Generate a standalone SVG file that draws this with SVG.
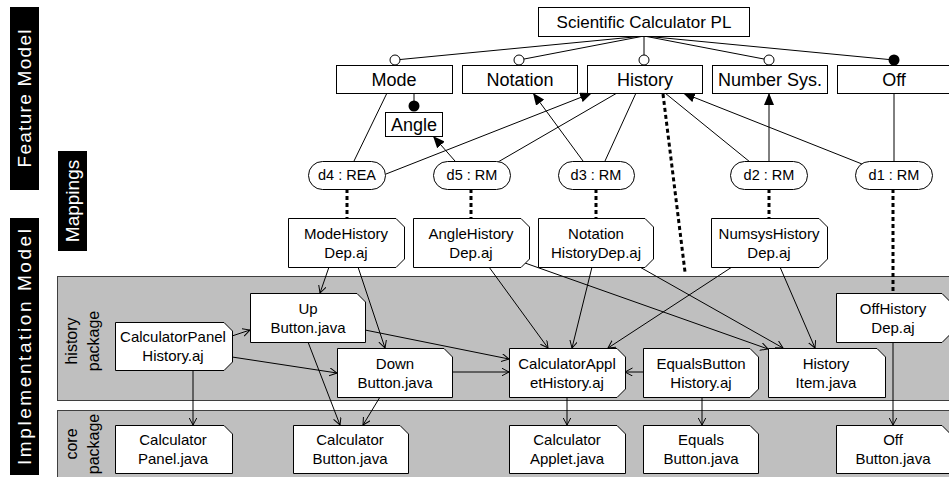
<svg xmlns="http://www.w3.org/2000/svg" width="949" height="477" viewBox="0 0 949 477">
<style>
.bx{fill:#fff;stroke:#000;stroke-width:1}
.pkg{fill:#bfbfbf;stroke:#3f3f3f;stroke-width:1}
.t{font-family:"Liberation Sans",Arial,sans-serif;font-size:15px;text-anchor:middle;fill:#000}
.f{font-size:18px}
.r{font-size:17px}
.m{font-size:14.5px}
.side{font-family:"Liberation Sans",Arial,sans-serif;font-size:19px;text-anchor:middle;fill:#fff}
.pl{font-family:"Liberation Sans",Arial,sans-serif;font-size:16px;text-anchor:middle;fill:#000}
.ln{stroke:#000;stroke-width:1;fill:none}
.dash{stroke:#000;stroke-width:3;stroke-dasharray:4 3;fill:none}
</style>
<defs>
<marker id="tri" markerUnits="userSpaceOnUse" markerWidth="13" markerHeight="10" refX="12" refY="5" orient="auto"><path d="M0,0 L12,5 L0,10 Z" fill="#000"/></marker>
<marker id="v" markerUnits="userSpaceOnUse" markerWidth="9" markerHeight="9" refX="7.5" refY="4" orient="auto"><path d="M0,0 L7.5,4 L0,8" fill="none" stroke="#000" stroke-width="1"/></marker>
</defs>

<g id="side-labels">
<rect x="10" y="7" width="29" height="183" fill="#000"/>
<text class="side" transform="translate(31,98.5) rotate(-90)" textLength="138" lengthAdjust="spacing">Feature Model</text>
<rect x="58" y="151" width="29" height="100" fill="#000"/>
<text class="side" transform="translate(79,201) rotate(-90)" font-size="18">Mappings</text>
<rect x="10" y="218" width="29" height="257" fill="#000"/>
<text class="side" transform="translate(31,347) rotate(-90)" textLength="236" lengthAdjust="spacing">Implementation Model</text>
</g>

<g id="packages">
<rect class="pkg" x="57.5" y="276.5" width="892" height="124"/>
<text class="pl" transform="translate(77,341) rotate(-90)">history</text>
<text class="pl" transform="translate(99,341) rotate(-90)">package</text>
<rect class="pkg" x="57.5" y="410.5" width="892" height="70"/>
<text class="pl" transform="translate(77,444) rotate(-90)">core</text>
<text class="pl" transform="translate(99,444) rotate(-90)">package</text>
</g>

<g id="connectors">
<line class="ln" x1="644" y1="36" x2="395" y2="60"/>
<line class="ln" x1="644" y1="36" x2="519" y2="60"/>
<line class="ln" x1="644" y1="36" x2="644" y2="60"/>
<line class="ln" x1="644" y1="36" x2="769" y2="60"/>
<line class="ln" x1="644" y1="36" x2="894" y2="60"/>
<line class="ln" x1="414" y1="93" x2="414" y2="106"/>

<line class="ln" x1="387" y1="93" x2="354" y2="161"/>
<line class="ln" x1="386" y1="174" x2="592" y2="93" marker-end="url(#tri)"/>
<line class="ln" x1="455" y1="161" x2="433" y2="136" marker-end="url(#tri)"/>
<line class="ln" x1="498" y1="162" x2="617" y2="93"/>
<line class="ln" x1="583" y1="161" x2="533" y2="93" marker-end="url(#tri)"/>
<line class="ln" x1="605" y1="161" x2="636" y2="93"/>
<line class="ln" x1="665" y1="93" x2="750" y2="162"/>
<line class="ln" x1="769" y1="161" x2="769" y2="93" marker-end="url(#tri)"/>
<line class="ln" x1="862" y1="164" x2="683" y2="93" marker-end="url(#tri)"/>
<line class="ln" x1="894" y1="93" x2="894" y2="161"/>

<line class="dash" x1="347" y1="189" x2="347" y2="218"/>
<line class="dash" x1="471" y1="189" x2="471" y2="218"/>
<line class="dash" x1="596" y1="189" x2="596" y2="218"/>
<line class="dash" x1="769" y1="189" x2="769" y2="218"/>
<line class="dash" x1="893" y1="189" x2="893" y2="293"/>
<line class="dash" x1="663" y1="94" x2="685" y2="272"/>

<line class="ln" x1="329" y1="267" x2="320" y2="293" marker-end="url(#v)"/>
<line class="ln" x1="358" y1="267" x2="385" y2="348" marker-end="url(#v)"/>
<line class="ln" x1="489" y1="267" x2="548" y2="348" marker-end="url(#v)"/>
<line class="ln" x1="525" y1="263" x2="768" y2="349" marker-end="url(#v)"/>
<line class="ln" x1="592" y1="267" x2="572" y2="348" marker-end="url(#v)"/>
<line class="ln" x1="638" y1="266" x2="783" y2="348" marker-end="url(#v)"/>
<line class="ln" x1="732" y1="267" x2="608" y2="348" marker-end="url(#v)"/>
<line class="ln" x1="780" y1="267" x2="815" y2="348" marker-end="url(#v)"/>
<line class="ln" x1="232" y1="336" x2="250" y2="330" marker-end="url(#v)"/>
<line class="ln" x1="232" y1="357" x2="337" y2="373" marker-end="url(#v)"/>
<line class="ln" x1="365" y1="330" x2="509" y2="359" marker-end="url(#v)"/>
<line class="ln" x1="452" y1="372" x2="509" y2="372" marker-end="url(#v)"/>
<line class="ln" x1="308" y1="342" x2="340" y2="425" marker-end="url(#v)"/>
<line class="ln" x1="380" y1="397" x2="363" y2="425" marker-end="url(#v)"/>
<line class="ln" x1="193" y1="370" x2="193" y2="425" marker-end="url(#v)"/>
<line class="ln" x1="643" y1="372" x2="625" y2="372" marker-end="url(#v)"/>
<line class="ln" x1="567" y1="397" x2="567" y2="425" marker-end="url(#v)"/>
<line class="ln" x1="702" y1="397" x2="702" y2="425" marker-end="url(#v)"/>
<line class="ln" x1="893" y1="342" x2="893" y2="425" marker-end="url(#v)"/>
</g>

<g id="feature-root"><rect class="bx" x="538.5" y="7.5" width="211" height="29"/><text class="t r" x="644" y="28">Scientific Calculator PL</text></g>
<g id="feature-mode"><rect class="bx" x="336.5" y="65.5" width="116" height="28"/><text class="t f" x="394" y="86">Mode</text></g>
<g id="feature-notation"><rect class="bx" x="462.5" y="65.5" width="115" height="28"/><text class="t f" x="520" y="86">Notation</text></g>
<g id="feature-history"><rect class="bx" x="587.5" y="65.5" width="115" height="28"/><text class="t f" x="645" y="86">History</text></g>
<g id="feature-numbersys"><rect class="bx" x="712.5" y="65.5" width="115" height="28"/><text class="t f" x="770" y="86">Number Sys.</text></g>
<g id="feature-off"><rect class="bx" x="837.5" y="65.5" width="115" height="28"/><text class="t f" x="894" y="86">Off</text></g>
<g id="feature-angle"><rect class="bx" x="385.5" y="112.5" width="57" height="24"/><text class="t f" x="414" y="131">Angle</text></g>

<g id="feature-markers">
<circle cx="395" cy="60" r="5" fill="#fff" stroke="#000"/>
<circle cx="519" cy="60" r="5" fill="#fff" stroke="#000"/>
<circle cx="644" cy="60" r="5" fill="#fff" stroke="#000"/>
<circle cx="769" cy="60" r="5" fill="#fff" stroke="#000"/>
<circle cx="894" cy="60" r="5.5" fill="#000"/>
<circle cx="414" cy="106" r="5.5" fill="#000"/>
</g>

<g id="map-d4"><rect class="bx" x="308.5" y="161.5" width="77" height="28" rx="14"/><text class="t m" x="347" y="180">d4 : REA</text></g>
<g id="map-d5"><rect class="bx" x="433.5" y="161.5" width="77" height="28" rx="14"/><text class="t m" x="472" y="180">d5 : RM</text></g>
<g id="map-d3"><rect class="bx" x="558.5" y="161.5" width="76" height="28" rx="14"/><text class="t m" x="596" y="180">d3 : RM</text></g>
<g id="map-d2"><rect class="bx" x="730.5" y="161.5" width="77" height="28" rx="14"/><text class="t m" x="769" y="180">d2 : RM</text></g>
<g id="map-d1"><rect class="bx" x="855.5" y="161.5" width="77" height="28" rx="14"/><text class="t m" x="894" y="180">d1 : RM</text></g>

<g id="ModeHistoryDep"><path class="bx" d="M288.5,218.5 H396 L404.5,227 V259 L396,267.5 H288.5 Z"/><text class="t" x="346" y="239">ModeHistory</text><text class="t" x="346" y="258">Dep.aj</text></g>
<g id="AngleHistoryDep"><path class="bx" d="M413.5,218.5 H521 L529.5,227 V259 L521,267.5 H413.5 Z"/><text class="t" x="471" y="239">AngleHistory</text><text class="t" x="471" y="258">Dep.aj</text></g>
<g id="NotationHistoryDep"><path class="bx" d="M538.5,218.5 H645 L653.5,227 V259 L645,267.5 H538.5 Z"/><text class="t" x="596" y="239">Notation</text><text class="t" x="596" y="258">HistoryDep.aj</text></g>
<g id="NumsysHistoryDep"><path class="bx" d="M711.5,218.5 H819 L827.5,227 V259 L819,267.5 H711.5 Z"/><text class="t" x="769" y="239">NumsysHistory</text><text class="t" x="769" y="258">Dep.aj</text></g>

<g id="OffHistoryDep"><path class="bx" d="M836.5,293.5 H942 L950.5,302 V334 L942,342.5 H836.5 Z"/><text class="t" x="893" y="314">OffHistory</text><text class="t" x="893" y="333">Dep.aj</text></g>
<g id="UpButton"><path class="bx" d="M250.5,293.5 H357 L365.5,302 V342.5 H250.5 Z"/><text class="t" x="308" y="314">Up</text><text class="t" x="308" y="333">Button.java</text></g>
<g id="CalculatorPanelHistory"><path class="bx" d="M115.5,322.5 H224 L232.5,331 V362 L224,370.5 H115.5 Z"/><text class="t" x="173" y="342">CalculatorPanel</text><text class="t" x="173" y="361">History.aj</text></g>
<g id="DownButton"><path class="bx" d="M337.5,348.5 H444 L452.5,357 V397.5 H337.5 Z"/><text class="t" x="395" y="369">Down</text><text class="t" x="395" y="388">Button.java</text></g>
<g id="CalculatorAppletHistory"><path class="bx" d="M509.5,348.5 H617 L625.5,357 V389 L617,397.5 H509.5 Z"/><text class="t" x="567" y="369">CalculatorAppl</text><text class="t" x="567" y="388">etHistory.aj</text></g>
<g id="EqualsButtonHistory"><path class="bx" d="M643.5,348.5 H750 L758.5,357 V389 L750,397.5 H643.5 Z"/><text class="t" x="701" y="369">EqualsButton</text><text class="t" x="701" y="388">History.aj</text></g>
<g id="HistoryItem"><path class="bx" d="M768.5,348.5 H877 L885.5,357 V397.5 H768.5 Z"/><text class="t" x="826" y="369">History</text><text class="t" x="826" y="388">Item.java</text></g>

<g id="CalculatorPanel"><path class="bx" d="M115.5,425.5 H224 L232.5,434 V473.5 H115.5 Z"/><text class="t" x="173" y="445">Calculator</text><text class="t" x="173" y="464">Panel.java</text></g>
<g id="CalculatorButton"><path class="bx" d="M293.5,425.5 H400 L408.5,434 V473.5 H293.5 Z"/><text class="t" x="350" y="445">Calculator</text><text class="t" x="350" y="464">Button.java</text></g>
<g id="CalculatorApplet"><path class="bx" d="M509.5,425.5 H617 L625.5,434 V473.5 H509.5 Z"/><text class="t" x="567" y="445">Calculator</text><text class="t" x="567" y="464">Applet.java</text></g>
<g id="EqualsButton"><path class="bx" d="M643.5,425.5 H750 L758.5,434 V473.5 H643.5 Z"/><text class="t" x="701" y="445">Equals</text><text class="t" x="701" y="464">Button.java</text></g>
<g id="OffButton"><path class="bx" d="M836.5,425.5 H942 L950.5,434 V473.5 H836.5 Z"/><text class="t" x="893" y="445">Off</text><text class="t" x="893" y="464">Button.java</text></g>
</svg>
